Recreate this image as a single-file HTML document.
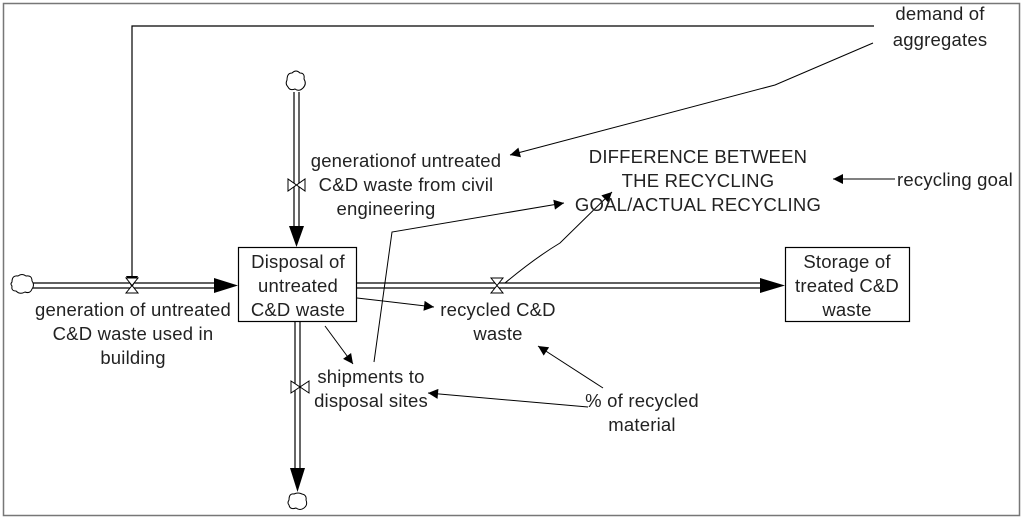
<!DOCTYPE html>
<html><head><meta charset="utf-8"><style>
html,body{margin:0;padding:0;background:#fff;}
svg{display:block;}
text{font-family:"Liberation Sans",Arial,sans-serif;font-size:18.5px;fill:#222;text-anchor:middle;letter-spacing:0.2px;}
</style></head><body>
<svg width="1024" height="520" viewBox="0 0 1024 520" xmlns="http://www.w3.org/2000/svg">
<defs>
<marker id="a" viewBox="0 0 10 10" refX="10" refY="5" markerWidth="18" markerHeight="10" markerUnits="userSpaceOnUse" orient="auto"><path d="M0,0 L10,5 L0,10 z" fill="#000"/></marker>
</defs>
<rect x="3.5" y="3.5" width="1016" height="512" fill="#fff" stroke="#777" stroke-width="1.5"/>
<polyline points="132,282 132,26 874,26" fill="none" stroke="#000" stroke-width="1.2"/>
<path d="M126,276 L138,276 L132,288 z" fill="#000"/>
<path d="M873,43 L775,85 L510,155" fill="none" stroke="#000" stroke-width="1" marker-end="url(#a)"/>
<line x1="30" y1="283" x2="226" y2="283" stroke="#000" stroke-width="1.2"/>
<line x1="30" y1="288" x2="226" y2="288" stroke="#000" stroke-width="1.2"/>
<path d="M214,278 L238,285.5 L214,293 z" fill="#000"/>
<path d="M12,282 q0,-7 6,-6 q4,-3 8,0 q6,-1 6,5 q3,4 0,8 q-2,5 -7,3 q-5,3 -9,-1 q-5,0 -4,-5 q-2,-2 0,-4z" fill="#fff" stroke="#000"/>
<path d="M126,278 L138,278 L126,293 L138,293 z" fill="#fff" stroke="#000"/>
<line x1="357" y1="283" x2="772" y2="283" stroke="#000" stroke-width="1.2"/>
<line x1="357" y1="288" x2="772" y2="288" stroke="#000" stroke-width="1.2"/>
<path d="M760,278 L785,285.5 L760,293 z" fill="#000"/>
<path d="M491,278 L503,278 L491,293 L503,293 z" fill="#fff" stroke="#000"/>
<line x1="294" y1="92" x2="294" y2="234" stroke="#000" stroke-width="1.2"/>
<line x1="299" y1="92" x2="299" y2="234" stroke="#000" stroke-width="1.2"/>
<path d="M289,226 L296.5,247 L304,226 z" fill="#000"/>
<path d="M287,80 q0,-7 5,-7 q4,-4 8,0 q5,0 4,6 q3,5 -1,9 q-4,4 -8,1 q-5,2 -7,-2 q-3,-3 -1,-7z" fill="#fff" stroke="#000"/>
<path d="M288,179 L288,191 L305,179 L305,191 z" fill="#fff" stroke="#000"/>
<line x1="295" y1="322" x2="295" y2="478" stroke="#000" stroke-width="1.2"/>
<line x1="300" y1="322" x2="300" y2="478" stroke="#000" stroke-width="1.2"/>
<path d="M290,468 L297.5,492 L305,468 z" fill="#000"/>
<path d="M289,500 q0,-7 5,-6 q4,-2 8,0 q5,1 4,6 q2,5 -2,8 q-4,3 -8,0 q-6,2 -7,-3 q-2,-2 0,-5z" fill="#fff" stroke="#000"/>
<path d="M291,381 L291,393 L309,381 L309,393 z" fill="#fff" stroke="#000"/>
<rect x="238.5" y="247.5" width="118" height="74" fill="#fff" stroke="#000" stroke-width="1.2"/>
<text x="298" y="268">Disposal of</text>
<text x="298" y="292">untreated</text>
<text x="298" y="316">C&amp;D waste</text>
<rect x="785.5" y="247.5" width="124" height="74" fill="#fff" stroke="#000" stroke-width="1.2"/>
<text x="847" y="268">Storage of</text>
<text x="847" y="292">treated C&amp;D</text>
<text x="847" y="316">waste</text>
<path d="M357,298 L434,307" fill="none" stroke="#000" marker-end="url(#a)"/>
<path d="M325,326 L353,364" fill="none" stroke="#000" marker-end="url(#a)"/>
<path d="M374,362 L392,232 L564,203" fill="none" stroke="#000" marker-end="url(#a)"/>
<path d="M505,283 Q535,258 560,243 L612,192" fill="none" stroke="#000" marker-end="url(#a)"/>
<path d="M895,179 L833,179" fill="none" stroke="#000" marker-end="url(#a)"/>
<path d="M603,388 L538,346" fill="none" stroke="#000" marker-end="url(#a)"/>
<path d="M588,407 L428,393" fill="none" stroke="#000" marker-end="url(#a)"/>
<text x="133" y="316">generation of untreated</text>
<text x="133" y="340">C&amp;D waste used in</text>
<text x="133" y="364">building</text>
<text x="406" y="167">generationof untreated</text>
<text x="406" y="191">C&amp;D waste from civil</text>
<text x="386" y="215">engineering</text>
<text x="698" y="163">DIFFERENCE BETWEEN</text>
<text x="698" y="187">THE RECYCLING</text>
<text x="698" y="211">GOAL/ACTUAL RECYCLING</text>
<text x="955" y="186">recycling goal</text>
<text x="940" y="20">demand of</text>
<text x="940" y="46">aggregates</text>
<text x="498" y="316">recycled C&amp;D</text>
<text x="498" y="340">waste</text>
<text x="371" y="383">shipments to</text>
<text x="371" y="407">disposal sites</text>
<text x="642" y="407">% of recycled</text>
<text x="642" y="431">material</text>
</svg>
</body></html>
